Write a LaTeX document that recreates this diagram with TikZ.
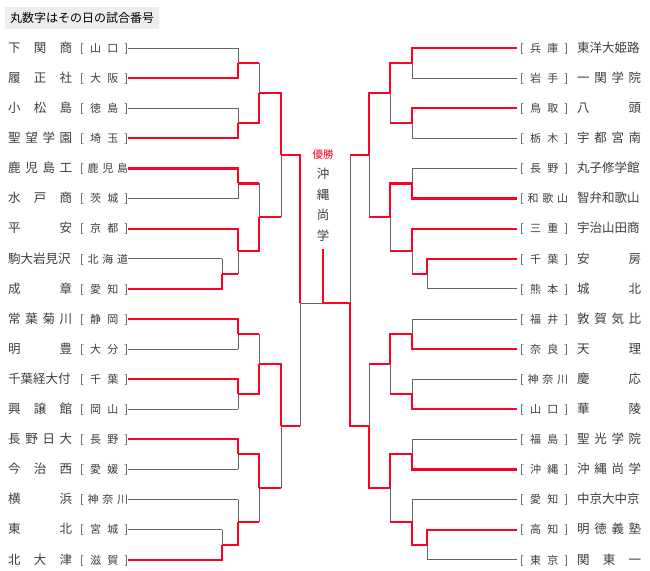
\documentclass[tikz,border=0pt]{standalone}
\usepackage{fontspec}
\setmainfont{Noto Sans CJK JP}
\usetikzlibrary{calc}

\definecolor{winred}{RGB}{255,0,34}
\definecolor{lossgray}{RGB}{100,100,100}
\definecolor{txtgray}{RGB}{60,60,60}

\newcommand{\tname}[1]{\makebox[64pt][s]{\fontsize{12.5pt}{14pt}\selectfont #1}}
\newcommand{\tpref}[1]{\makebox[48pt][s]{\fontsize{11pt}{12pt}\selectfont #1}}

% one game: winner end, loser end, column x, result name, style of loser's incoming line
\newcommand{\bout}[5]{%
  \path let \p1=($(#1)!.5!(#2)$) in (#3,\y1) coordinate (#4);
  \draw[#5] (#2) -- (#2 -| #4);
  \draw[loss] (#2 -| #4) -- (#4);
  \draw[win] (#1) -| (#4);
}

\begin{document}
\begin{tikzpicture}[
    x=1pt, y=-1pt,
    win/.style={winred, line width=2.2pt},
    loss/.style={lossgray, line width=0.8pt},
    team/.style={inner sep=0pt, text=txtgray, anchor=west},
    title/.style={fill=black!7, inner sep=5pt, font=\fontsize{12pt}{14pt}\selectfont, anchor=west}
  ]
  \useasboundingbox (0,0) rectangle (650,570);

  \node[title] (title) at (5,18) {丸数字はその日の試合番号};

  % ===== LEFT TEAMS =====
  \foreach \n/\p [count=\i from 0] in {
      下\hfil 関\hfil 商/[\hfil 山\hfil 口\hfil ],
      履\hfil 正\hfil 社/[\hfil 大\hfil 阪\hfil ],
      小\hfil 松\hfil 島/[\hfil 徳\hfil 島\hfil ],
      聖\hfil 望\hfil 学\hfil 園/[\hfil 埼\hfil 玉\hfil ],
      鹿\hfil 児\hfil 島\hfil 工/[\hfil 鹿\hfil 児\hfil 島,
      水\hfil 戸\hfil 商/[\hfil 茨\hfil 城\hfil ],
      平\hfil 安/[\hfil 京\hfil 都\hfil ],
      駒大岩見沢/[\hfil 北\hfil 海\hfil 道,
      成\hfil 章/[\hfil 愛\hfil 知\hfil ],
      常\hfil 葉\hfil 菊\hfil 川/[\hfil 静\hfil 岡\hfil ],
      明\hfil 豊/[\hfil 大\hfil 分\hfil ],
      千葉経大付/[\hfil 千\hfil 葉\hfil ],
      興\hfil 譲\hfil 館/[\hfil 岡\hfil 山\hfil ],
      長\hfil 野\hfil 日\hfil 大/[\hfil 長\hfil 野\hfil ],
      今\hfil 治\hfil 西/[\hfil 愛\hfil 媛\hfil ],
      横\hfil 浜/[\hfil 神\hfil 奈\hfil 川,
      東\hfil 北/[\hfil 宮\hfil 城\hfil ],
      北\hfil 大\hfil 津/[\hfil 滋\hfil 賀\hfil ]}
    \node[team] (l\i) at (8,48+30.1*\i) {\tname{\n}\hspace{8pt}\tpref{\p}\hspace{2pt}};

  % ===== RIGHT TEAMS =====
  \foreach \n/\p [count=\i from 0] in {
      東洋大姫路/[\hfil 兵\hfil 庫\hfil ],
      一\hfil 関\hfil 学\hfil 院/[\hfil 岩\hfil 手\hfil ],
      八\hfil 頭/[\hfil 鳥\hfil 取\hfil ],
      宇\hfil 都\hfil 宮\hfil 南/[\hfil 栃\hfil 木\hfil ],
      丸子修学館/[\hfil 長\hfil 野\hfil ],
      智弁和歌山/[\hfil 和\hfil 歌\hfil 山,
      宇治山田商/[\hfil 三\hfil 重\hfil ],
      安\hfil 房/[\hfil 千\hfil 葉\hfil ],
      城\hfil 北/[\hfil 熊\hfil 本\hfil ],
      敦\hfil 賀\hfil 気\hfil 比/[\hfil 福\hfil 井\hfil ],
      天\hfil 理/[\hfil 奈\hfil 良\hfil ],
      慶\hfil 応/[\hfil 神\hfil 奈\hfil 川,
      華\hfil 陵/[\hfil 山\hfil 口\hfil ],
      聖\hfil 光\hfil 学\hfil 院/[\hfil 福\hfil 島\hfil ],
      沖\hfil 縄\hfil 尚\hfil 学/[\hfil 沖\hfil 縄\hfil ],
      中京大中京/[\hfil 愛\hfil 知\hfil ],
      明\hfil 徳\hfil 義\hfil 塾/[\hfil 高\hfil 知\hfil ],
      関\hfil 東\hfil 一/[\hfil 東\hfil 京\hfil ]}
    \node[team] (r\i) at (517,48+30.1*\i) {\hspace{3pt}\tpref{\p}\hspace{9pt}\tname{\n}};

  % ===== LEFT BRACKET =====
  \bout{l1.east}{l0.east}{238}{la1}{loss}
  \bout{l3.east}{l2.east}{238}{la2}{loss}
  \bout{l4.east}{l5.east}{238}{la3}{loss}
  \bout{l8.east}{l7.east}{222}{lp1}{loss}
  \bout{l6.east}{lp1}{238}{la4}{win}
  \bout{l9.east}{l10.east}{238}{la5}{loss}
  \bout{l11.east}{l12.east}{238}{la6}{loss}
  \bout{l13.east}{l14.east}{238}{la7}{loss}
  \bout{l17.east}{l16.east}{222}{lp2}{loss}
  \bout{lp2}{l15.east}{238}{la8}{loss}
  \bout{la2}{la1}{259}{lb1}{win}
  \bout{la4}{la3}{259}{lb2}{win}
  \bout{la6}{la5}{259}{lb3}{win}
  \bout{la7}{la8}{259}{lb4}{win}
  \bout{lb1}{lb2}{281}{lc1}{win}
  \bout{lb3}{lb4}{281}{lc2}{win}

  % ===== RIGHT BRACKET =====
  \bout{r0.west}{r1.west}{412}{ra1}{loss}
  \bout{r2.west}{r3.west}{412}{ra2}{loss}
  \bout{r5.west}{r4.west}{412}{ra3}{loss}
  \bout{r7.west}{r8.west}{427}{rp1}{loss}
  \bout{r6.west}{rp1}{412}{ra4}{win}
  \bout{r10.west}{r9.west}{412}{ra5}{loss}
  \bout{r12.west}{r11.west}{412}{ra6}{loss}
  \bout{r14.west}{r13.west}{412}{ra7}{loss}
  \bout{r16.west}{r17.west}{427}{rp2}{loss}
  \bout{rp2}{r15.west}{412}{ra8}{loss}
  \bout{ra1}{ra2}{390}{rb1}{win}
  \bout{ra3}{ra4}{390}{rb2}{win}
  \bout{ra5}{ra6}{390}{rb3}{win}
  \bout{ra7}{ra8}{390}{rb4}{win}
  \bout{rb1}{rb2}{369}{rc1}{win}
  \bout{rb4}{rb3}{369}{rc2}{win}

  % ===== FINAL =====
  \coordinate (sfl) at (300,303);
  \coordinate (sfr) at (350,303);
  \coordinate (champ) at (323,303);
  \coordinate (champtop) at (323,249);
  \draw[win] (lc2) -- (lc2 -| sfl);
  \draw[loss] (lc2 -| sfl) -- (sfl);
  \draw[win] (lc1) -| (sfl);
  \draw[win] (rc1) -- (rc1 -| sfr);
  \draw[loss] (rc1 -| sfr) -- (sfr);
  \draw[win] (rc2) -| (sfr);
  \draw[loss] (sfl) -- (champ);
  \draw[win] (sfr) -- (champ) -- (champtop);

  % champion
  \node[text=winred, font=\fontsize{10.5pt}{12pt}\selectfont, inner sep=0pt] (yusho) at (323,155) {優勝};
  \foreach \c [count=\k from 0] in {沖,縄,尚,学}
    \node[text=txtgray, font=\fontsize{12.5pt}{14pt}\selectfont, inner sep=0pt] (w\k) at (323,174+20.5*\k) {\c};
\end{tikzpicture}
\end{document}
